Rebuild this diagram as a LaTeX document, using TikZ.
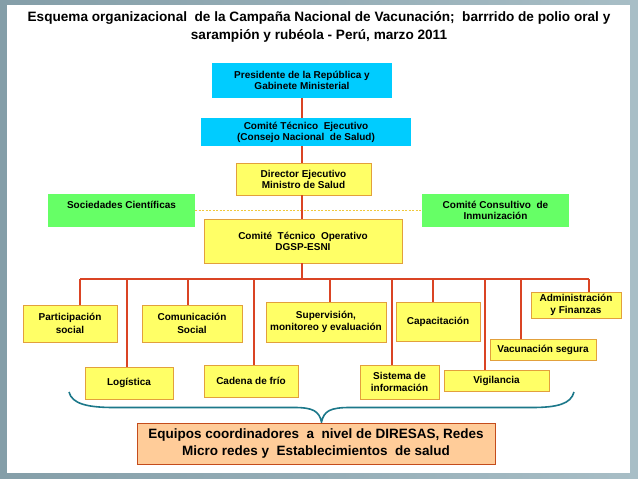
\documentclass[tikz,border=0pt]{standalone}
\usepackage{fontspec}
\setmainfont{Liberation Sans}
\usetikzlibrary{positioning}

\definecolor{framegray}{RGB}{132,158,168}
\definecolor{framelight}{RGB}{168,190,198}
\definecolor{linered}{RGB}{218,68,36}
\definecolor{boxcyan}{RGB}{0,204,255}
\definecolor{boxyellow}{RGB}{255,255,102}
\definecolor{boxorange}{RGB}{226,160,60}
\definecolor{boxgreen}{RGB}{102,255,102}
\definecolor{boxsalmon}{RGB}{255,204,153}
\definecolor{salmonedge}{RGB}{196,76,28}
\definecolor{braceteal}{RGB}{28,120,138}
\definecolor{dotyellow}{RGB}{240,200,60}

\begin{document}
\begin{tikzpicture}[
    x = 1pt, y = -1pt, % pixel grid, y runs downwards
    font = \bfseries\fontsize{10}{11}\selectfont,
    redline/.style = {draw = linered, line width = 1.6pt}, % connector style
    inner sep = 0pt
    ]

    \tikzset{
    cyanbox/.style = {fill = boxcyan, align = center},
    yellowbox/.style = {fill = boxyellow, draw = boxorange, line width = 0.8pt, align = center},
    greenbox/.style = {fill = boxgreen, align = center},
    subbox/.style = {yellowbox, font = \bfseries\fontsize{10}{12.5}\selectfont},
    basebox/.style = {fill = boxsalmon, draw = salmonedge, line width = 0.8pt, align = center,
        font = \bfseries\fontsize{13.5}{16.7}\selectfont}
    }

    % frame and page
    \useasboundingbox (0,0) rectangle (638,479);
    \shade[left color = framegray, right color = framelight] (0,0) rectangle (638,479);
    \fill[white] (7,5) rectangle (630,473);

    \node (title) at (319,27) [align = center, font = \bfseries\fontsize{13.6}{18}\selectfont]
        {Esquema organizacional\ \ de la Campaña Nacional de Vacunación;\ \ barrrido de polio oral y\\
         sarampión y rubéola - Perú, marzo 2011};

    % upper chain
    \node[cyanbox, minimum width = 180pt, minimum height = 35pt] (pres) at (302,80.5)
        {Presidente de la República y\\ Gabinete Ministerial};
    \node[cyanbox, minimum width = 210pt, minimum height = 28pt] (cte) at (306,132)
        {Comité Técnico\ \ Ejecutivo\\ (Consejo Nacional\ \ de Salud)};
    \node[yellowbox, minimum width = 135pt, minimum height = 32pt] (dir) at (303.5,179)
        {Director Ejecutivo\\ Ministro de Salud};
    \node[greenbox, minimum width = 147pt, minimum height = 33pt, text depth = 12pt] (soc) at (121.5,210.5)
        {Sociedades Científicas};
    \node[greenbox, minimum width = 147pt, minimum height = 33pt] (cons) at (495.5,210.5)
        {Comité Consultivo\ \ de\\ Inmunización};
    \node[yellowbox, minimum width = 198pt, minimum height = 44pt] (dgsp) at (303,241)
        {Comité\ \ Técnico\ \ Operativo\\ DGSP-ESNI};

    \draw[dotyellow, line width = 0.6pt, dash pattern = on 2pt off 1.5pt] (soc.east) -- (cons.west);
    \draw[redline] (pres.south) -- (pres.south |- cte.north);
    \draw[redline] (cte.south -| pres.south) -- (pres.south |- dir.north);
    \draw[redline] (dir.south -| pres.south) -- (pres.south |- dgsp.north);

    % lower boxes
    \node[subbox, minimum width = 94pt, minimum height = 37pt] (partic) at (70,323.5)
        {Participación\\ social};
    \node[subbox, minimum width = 100pt, minimum height = 37pt] (comun) at (192,323.5)
        {Comunicación\\ Social};
    \node[subbox, minimum width = 120pt, minimum height = 40pt] (superv) at (326,322)
        {Supervisión,\\ monitoreo y evaluación};
    \node[subbox, minimum width = 84pt, minimum height = 39pt] (capac) at (438,321.5)
        {Capacitación};
    \node[subbox, minimum width = 90pt, minimum height = 26pt] (admin) at (576,305)
        {Administración\\ y Finanzas};
    \node[subbox, minimum width = 106pt, minimum height = 21pt] (vacun) at (543,349.5)
        {Vacunación segura};
    \node[subbox, minimum width = 88pt, minimum height = 32pt] (logis) at (129,383)
        {Logística};
    \node[subbox, minimum width = 94pt, minimum height = 32pt] (cadena) at (251,381)
        {Cadena de frío};
    \node[subbox, minimum width = 79pt, minimum height = 34pt] (sistema) at (399.5,382)
        {Sistema de\\ información};
    \node[subbox, minimum width = 105pt, minimum height = 21pt] (vigil) at (496.5,380.5)
        {Vigilancia};

    % bus
    \coordinate (busl) at (80,279);
    \coordinate (busr) at (589,279);
    \draw[redline] (dgsp.south -| pres.south) -- (pres.south |- busl);
    \draw[redline] (busl) -- (busr);
    \foreach \x/\n in {80/partic, 127/logis, 188/comun, 254/cadena, 330/superv,
                       392/sistema, 433/capac, 485/vigil, 521/vacun, 589/admin}
        {
        \coordinate (b\n) at (\x,279);
        \draw[redline] (b\n) -- (b\n |- \n.north);
        }

    % brace and base box
    \coordinate (bracel) at (69,392);
    \coordinate (bracer) at (574,392);
    \coordinate (bracetip) at (321.5,422);
    \draw[braceteal, line width = 1.6pt]
        (bracel) .. controls (72,404) and (88,407.5) .. (114,407.5) -- (294,407.5)
        .. controls (313,407.5) and (319,411) .. (bracetip)
        .. controls (324,411) and (330,407.5) .. (350,407.5) -- (532,407.5)
        .. controls (557,407.5) and (571,404) .. (bracer);

    \node[basebox, minimum width = 358pt, minimum height = 41pt] (equipos) at (316,443.5)
        {Equipos coordinadores\ \ a\ \ nivel de DIRESAS, Redes\\ Micro redes y\ \ Establecimientos\ \ de salud};
\end{tikzpicture}
\end{document}
